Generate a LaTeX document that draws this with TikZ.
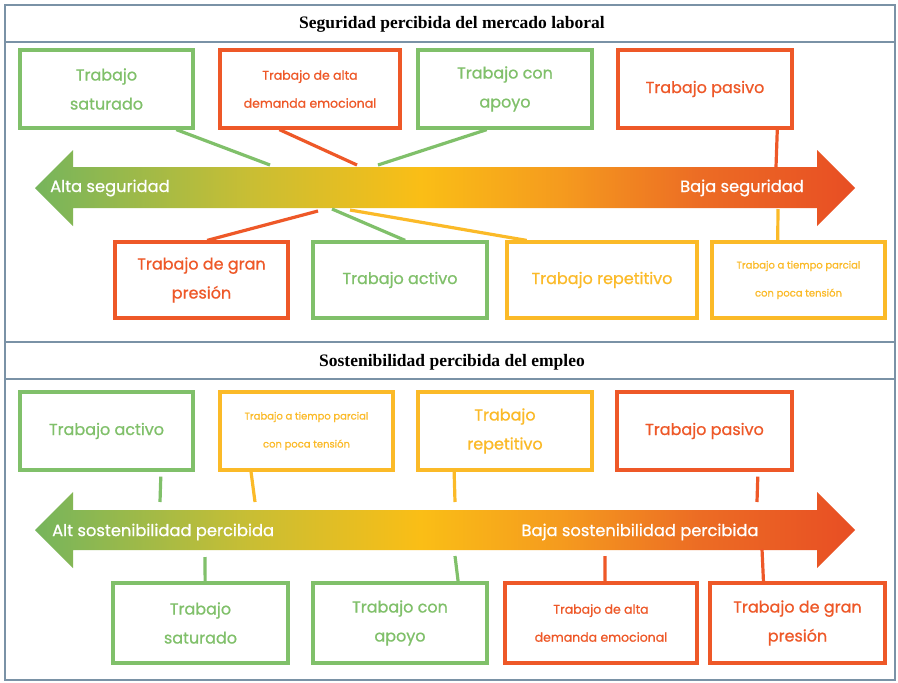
\documentclass[tikz,border=0pt]{standalone}
\usepackage{fontspec}
\setmainfont{Poppins}
\newfontfamily\pmed[FakeBold=0.8]{Poppins}
\newfontfamily\titlefont{Liberation Serif}
\usetikzlibrary{calc}
\definecolor{grn}{RGB}{128,192,106}
\definecolor{rdo}{RGB}{238,88,40}
\definecolor{yel}{RGB}{251,186,40}
\definecolor{frm}{RGB}{122,146,166}
\definecolor{ga}{RGB}{118,181,92}
\definecolor{gb}{RGB}{200,190,52}
\definecolor{gc}{RGB}{250,190,22}
\definecolor{gd}{RGB}{245,155,30}
\definecolor{ge}{RGB}{236,108,36}
\definecolor{gf}{RGB}{232,78,36}
\pgfdeclarehorizontalshading{arrowgrad}{100bp}{color(0bp)=(ga); color(25bp)=(ga); color(38bp)=(gb); color(48.5bp)=(gc); color(57bp)=(gd); color(65.5bp)=(ge); color(75bp)=(gf); color(100bp)=(gf)}
\newcommand\bigtx{\pmed\fontsize{16}{29}\selectfont}
\newcommand\medtx{\pmed\fontsize{12.5}{28}\selectfont}
\newcommand\smltx{\pmed\fontsize{10}{28}\selectfont}
\newcommand\arrtx{\pmed\fontsize{16.3}{18}\selectfont}
\newcommand\ttltx{\fontsize{17.5}{19}\selectfont\titlefont\bfseries}
\tikzset{
  jbox/.style={draw=#1, text=#1, line width=3.2pt, minimum height=78, align=center, inner sep=2pt, font=\bigtx},
  conn/.style={draw=#1, line width=3.2pt},
  arrlabel/.style={text=white, font=\arrtx, inner sep=0pt},
  ttl/.style={font=\ttltx, text=black, inner sep=0pt},
  frameline/.style={draw=frm, line width=2pt}
}
\begin{document}
\begin{tikzpicture}[x=1pt,y=-1pt]
\useasboundingbox (0,0) rectangle (898,683);
\fill[white] (0,0) rectangle (898,683);
% frames
\draw[frameline] (5,5) rectangle (895,342);
\draw[frameline] (5,42) -- (895,42);
\draw[frameline] (5,342) rectangle (895,680);
\draw[frameline] (5,379) -- (895,379);
\node[ttl] (t1) at (452,24) {Seguridad percibida del mercado laboral};
\node[ttl] (t2) at (452,362) {Sostenibilidad percibida del empleo};
% arrows
\shade[shading=arrowgrad] (35,188) -- (73,150) -- (73,167) -- (817,167) -- (817,150) -- (855,188) -- (817,226) -- (817,208) -- (73,208) -- (73,226) -- cycle;
\shade[shading=arrowgrad] (35,530) -- (73,492) -- (73,510) -- (817,510) -- (817,492) -- (855,530) -- (817,568) -- (817,550) -- (73,550) -- (73,568) -- cycle;
\node[arrlabel, anchor=west] (l1) at (50,188) {Alta seguridad};
\node[arrlabel, anchor=east] (r1) at (804,188) {Baja seguridad};
\node[arrlabel, anchor=west] (l2) at (52,532) {Alt sostenibilidad percibida};
\node[arrlabel] (r2) at (640,532) {Baja sostenibilidad percibida};
% section 1 boxes
\node[jbox=grn, minimum width=173] (A1) at (106.5,89) {Trabajo\\saturado};
\node[jbox=rdo, minimum width=180, font=\medtx] (A2) at (310,89) {Trabajo de alta\\demanda emocional};
\node[jbox=grn, minimum width=174] (A3) at (505,89) {Trabajo con\\apoyo};
\node[jbox=rdo, minimum width=174] (A4) at (705,89) {Trabajo pasivo};
\node[jbox=rdo, minimum width=173, minimum height=76] (B1) at (201.5,280) {Trabajo de gran\\presión};
\node[jbox=grn, minimum width=174, minimum height=76] (B2) at (400,280) {Trabajo activo};
\node[jbox=yel, minimum width=190, minimum height=76] (B3) at (602,280) {Trabajo repetitivo};
\node[jbox=yel, minimum width=173, minimum height=76, font=\smltx] (B4) at (798.5,280) {Trabajo a tiempo parcial\\con poca tensión};
% section 1 connector ends
\coordinate (a1) at (270,165);
\coordinate (a2) at (357,165);
\coordinate (a3) at (378,165);
\coordinate (a4) at (776,167);
\coordinate (b1) at (318,211);
\coordinate (b2) at (332,209);
\coordinate (b3) at (350,210);
\coordinate (b4) at (778,209);
\draw[conn=grn] ($(A1.south west)!0.896!(A1.south east)$) -- (a1);
\draw[conn=rdo] ($(A2.south west)!0.333!(A2.south east)$) -- (a2);
\draw[conn=grn] ($(A3.south west)!0.397!(A3.south east)$) -- (a3);
\draw[conn=rdo] ($(A4.south west)!0.908!(A4.south east)$) -- (a4);
\draw[conn=rdo] ($(B1.north west)!0.532!(B1.north east)$) -- (b1);
\draw[conn=grn] ($(B2.north west)!0.529!(B2.north east)$) -- (b2);
\draw[conn=yel] ($(B3.north west)!0.11!(B3.north east)$) -- (b3);
\draw[conn=yel] ($(B4.north west)!0.382!(B4.north east)$) -- (b4);
% section 2 boxes
\node[jbox=grn, minimum width=173] (C1) at (106.5,431) {Trabajo activo};
\node[jbox=yel, minimum width=173, font=\smltx] (C2) at (306.5,431) {Trabajo a tiempo parcial\\con poca tensión};
\node[jbox=yel, minimum width=174] (C3) at (505,431) {Trabajo\\repetitivo};
\node[jbox=rdo, minimum width=175] (C4) at (704.5,431) {Trabajo pasivo};
\node[jbox=grn, minimum width=175, minimum height=80] (D1) at (200.5,623) {Trabajo\\saturado};
\node[jbox=grn, minimum width=174, minimum height=80] (D2) at (400,623) {Trabajo con\\apoyo};
\node[jbox=rdo, minimum width=192, minimum height=80, font=\medtx] (D3) at (601,623) {Trabajo de alta\\demanda emocional};
\node[jbox=rdo, minimum width=175, minimum height=80] (D4) at (797.5,623) {Trabajo de gran\\presión};
% section 2 connector ends
\coordinate (c1) at (160,502);
\coordinate (c2) at (255,502);
\coordinate (c3) at (455,502);
\coordinate (c4) at (757,502);
\coordinate (d1) at (205,557);
\coordinate (d2) at (455,556);
\coordinate (d3) at (605,556);
\coordinate (d4) at (762,549);
\draw[conn=grn, shorten <=5pt] ($(C1.south west)!0.809!(C1.south east)$) -- (c1);
\draw[conn=yel] ($(C2.south west)!0.185!(C2.south east)$) -- (c2);
\draw[conn=yel] ($(C3.south west)!0.213!(C3.south east)$) -- (c3);
\draw[conn=rdo, shorten <=5pt] ($(C4.south west)!0.8!(C4.south east)$) -- (c4);
\draw[conn=grn] ($(D1.north west)!0.526!(D1.north east)$) -- (d1);
\draw[conn=grn] ($(D2.north west)!0.828!(D2.north east)$) -- (d2);
\draw[conn=rdo] ($(D3.north west)!0.521!(D3.north east)$) -- (d3);
\draw[conn=rdo] ($(D4.north west)!0.309!(D4.north east)$) -- (d4);
\end{tikzpicture}
\end{document}
